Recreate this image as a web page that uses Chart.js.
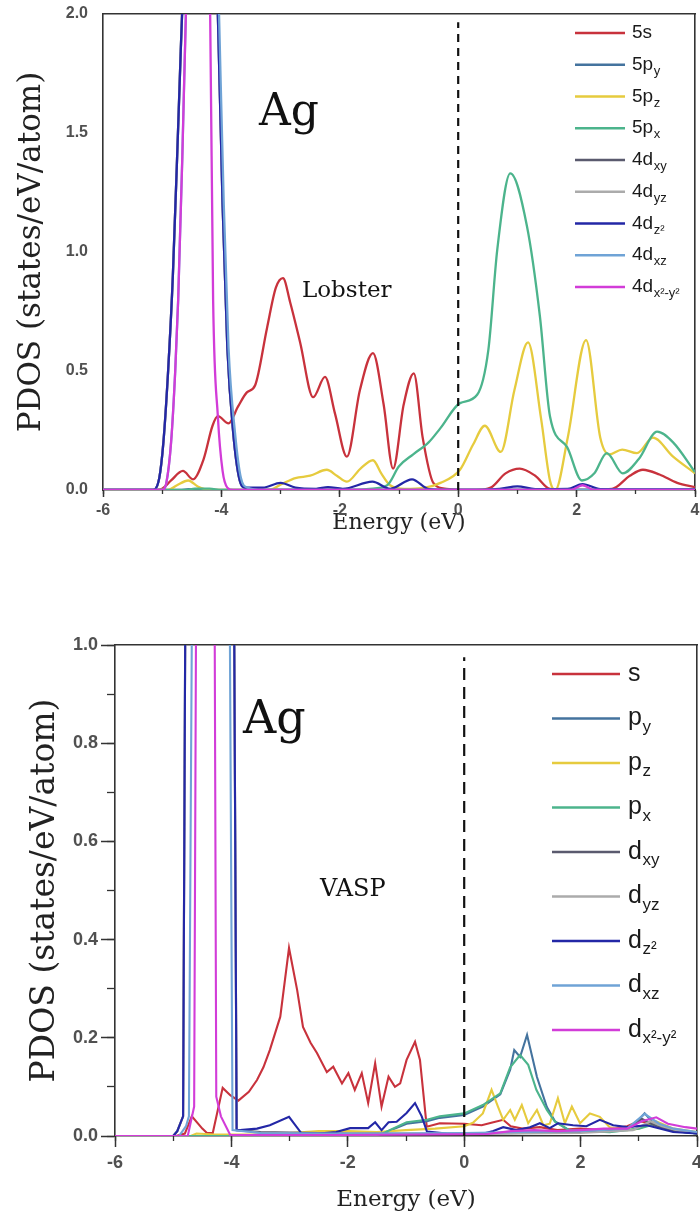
<!DOCTYPE html>
<html>
<head>
<meta charset="utf-8">
<script src="https://cdn.jsdelivr.net/npm/chart.js@4.4.1/dist/chart.umd.min.js"></script>
<style>
  body { margin: 0; background: #fff; width: 700px; height: 1221px; position: relative; overflow: hidden; }
  canvas { position: absolute; left: 0; }
  #lobsterChart { top: 0; }
  #vaspChart { top: 580px; }
</style>
</head>
<body>
<canvas id="lobsterChart" width="700" height="545"></canvas>
<canvas id="vaspChart" width="700" height="641"></canvas>
<script>
// ---- orbital names / colours (same order for both panels) ----
const lobsterNames = ['5s', '5p', '5p', '5p', '4d', '4d', '4d', '4d', '4d'];
const vaspNames = ['s', 'p', 'p', 'p', 'd', 'd', 'd', 'd', 'd'];
const orbitalSubs = ['', 'y', 'z', 'x', 'xy', 'yz', 'z²', 'xz', 'x²-y²'];
const orbitalColors = ['#c8323c', '#44739e', '#e6cb3e', '#4cb48c', '#5a5a6e', '#ababab', '#2327a6', '#6fa3d6', '#d23cd8'];

// ---- Lobster PDOS, [energy (eV), states/eV/atom] ----
const lob5s = [[-6,0],[-5.1,0],[-5.0,0.005],[-4.85,0.04],[-4.65,0.08],[-4.48,0.045],[-4.3,0.13],[-4.15,0.27],[-4.06,0.31],[-3.88,0.28],[-3.72,0.35],[-3.57,0.41],[-3.43,0.44],[-3.23,0.68],[-3.08,0.85],[-2.96,0.89],[-2.84,0.79],[-2.67,0.62],[-2.45,0.39],[-2.25,0.475],[-2.08,0.32],[-1.88,0.14],[-1.66,0.42],[-1.44,0.575],[-1.26,0.36],[-1.10,0.09],[-0.92,0.36],[-0.75,0.49],[-0.6,0.22],[-0.42,0.03],[-0.2,0.005],[0.3,0],[0.55,0.01],[0.8,0.07],[1.04,0.09],[1.3,0.06],[1.55,0.005],[2.0,0],[2.6,0.005],[2.9,0.06],[3.12,0.085],[3.4,0.065],[3.7,0.03],[4,0.012]];
const lob5py = [[-6,0],[-4.7,0],[-4.55,0.004],[-4.4,0],[4,0]];
const lob5pz = [[-6,0],[-4.9,0],[-4.75,0.02],[-4.56,0.04],[-4.4,0.015],[-4.2,0],[-3.2,0],[-2.98,0.025],[-2.75,0.05],[-2.5,0.06],[-2.22,0.085],[-2.05,0.06],[-1.88,0.035],[-1.65,0.09],[-1.44,0.125],[-1.3,0.07],[-1.15,0.02],[-0.9,0.005],[-0.6,0.008],[-0.3,0.03],[0.03,0.085],[0.25,0.19],[0.45,0.27],[0.72,0.16],[0.95,0.42],[1.18,0.62],[1.4,0.3],[1.55,0.04],[1.64,0],[1.85,0.22],[2.16,0.63],[2.4,0.22],[2.55,0.15],[2.77,0.17],[3.02,0.155],[3.29,0.22],[3.63,0.14],[4,0.07]];
const lob5px = [[-6,0],[-4.6,0],[-4.45,0.006],[-4.2,0.006],[-4.0,0],[-1.8,0],[-1.5,0.005],[-1.2,0.02],[-1.0,0.1],[-0.76,0.15],[-0.5,0.2],[-0.3,0.26],[0.03,0.365],[0.32,0.40],[0.51,0.59],[0.66,1.01],[0.88,1.33],[1.16,1.11],[1.38,0.73],[1.55,0.31],[1.84,0.18],[2.09,0.04],[2.3,0.07],[2.51,0.155],[2.78,0.07],[3.05,0.13],[3.36,0.245],[3.63,0.2],[4,0.075]];
const lob4dxy = [[-6,0],[-5.15,0],[-5.05,0.05],[-4.98,0.2],[-4.9,0.5],[-4.82,0.9],[-4.72,1.6],[-4.62,2.3],[-4.45,2.9],[-4.2,2.7],[-4.06,2.0],[-3.98,1.2],[-3.9,0.6],[-3.8,0.24],[-3.7,0.05],[-3.6,0.01],[-3.2,0],[4,0]];
const lob4dyz = [[-6,0],[-5.15,0],[-5.05,0.05],[-4.98,0.2],[-4.9,0.5],[-4.82,0.9],[-4.72,1.6],[-4.62,2.3],[-4.5,2.7],[-4.25,2.8],[-4.06,2.0],[-3.98,1.2],[-3.9,0.6],[-3.8,0.24],[-3.7,0.05],[-3.6,0.01],[-3.2,0],[4,0]];
const lob4dz2 = [[-6,0],[-5.15,0],[-5.05,0.05],[-4.98,0.2],[-4.9,0.5],[-4.82,0.9],[-4.72,1.6],[-4.62,2.3],[-4.4,3.2],[-4.15,2.6],[-4.06,2.0],[-3.98,1.2],[-3.9,0.6],[-3.8,0.24],[-3.7,0.05],[-3.6,0.01],[-3.3,0.01],[-3.0,0.03],[-2.75,0.01],[-2.4,0.005],[-2.2,0.012],[-1.95,0.005],[-1.45,0.035],[-1.15,0.005],[-0.78,0.045],[-0.5,0.004],[0,0],[0.7,0.005],[1.0,0.015],[1.3,0.004],[1.85,0.005],[2.1,0.025],[2.4,0.004],[4,0.002]];
const lob4dxz = [[-6,0],[-5.0,0],[-4.93,0.03],[-4.85,0.2],[-4.78,0.5],[-4.73,0.8],[-4.66,1.4],[-4.6,2.0],[-4.4,2.9],[-4.1,2.6],[-4.04,2.0],[-3.96,1.2],[-3.88,0.6],[-3.77,0.24],[-3.67,0.05],[-3.56,0.01],[-3.3,0],[4,0]];
const lob4dx2y2 = [[-6,0],[-5.0,0],[-4.93,0.03],[-4.85,0.2],[-4.78,0.5],[-4.73,0.8],[-4.66,1.4],[-4.6,2.0],[-4.5,2.8],[-4.3,2.8],[-4.19,2.0],[-4.14,0.8],[-4.06,0.31],[-3.98,0.08],[-3.9,0.01],[-3.8,0],[1.9,0],[2.1,0.02],[2.3,0],[4,0]];

// ---- VASP PDOS ----
const vasp_s = [[-6,0],[-4.95,0],[-4.8,0.005],[-4.68,0.04],[-4.5,0.015],[-4.42,0.006],[-4.32,0.006],[-4.15,0.098],[-4.02,0.083],[-3.88,0.072],[-3.7,0.09],[-3.56,0.114],[-3.45,0.14],[-3.34,0.175],[-3.16,0.243],[-3.01,0.383],[-2.87,0.297],[-2.77,0.222],[-2.64,0.19],[-2.53,0.169],[-2.36,0.13],[-2.25,0.141],[-2.1,0.107],[-1.99,0.128],[-1.88,0.094],[-1.76,0.128],[-1.65,0.067],[-1.53,0.148],[-1.42,0.06],[-1.3,0.121],[-1.19,0.1],[-1.1,0.107],[-0.99,0.155],[-0.845,0.192],[-0.76,0.155],[-0.644,0.019],[-0.42,0.026],[0,0.025],[0.3,0.022],[0.5,0.028],[0.67,0.033],[0.8,0.02],[1.0,0.015],[1.3,0.018],[1.6,0.012],[2.0,0.015],[2.4,0.012],[2.8,0.02],[3.0,0.03],[3.3,0.025],[3.6,0.012],[4,0.005]];
const vasp_py = [[-6,0],[-1.6,0],[-1.4,0.005],[-0.99,0.025],[-0.64,0.03],[-0.42,0.037],[0,0.043],[0.32,0.06],[0.62,0.085],[0.79,0.135],[0.86,0.175],[0.96,0.161],[1.08,0.206],[1.25,0.12],[1.42,0.059],[1.56,0.03],[1.8,0.012],[2.5,0.01],[2.9,0.02],[3.1,0.046],[3.3,0.02],[3.6,0.01],[4,0.005]];
const vasp_pz = [[-6,0],[-4.7,0],[-4.6,0.005],[-4.3,0.003],[-3.5,0.003],[-3.0,0.006],[-2.5,0.01],[-2.0,0.01],[-1.5,0.008],[-1.0,0.012],[-0.5,0.015],[0,0.02],[0.15,0.027],[0.32,0.046],[0.47,0.094],[0.58,0.06],[0.67,0.033],[0.79,0.053],[0.87,0.033],[0.99,0.063],[1.10,0.026],[1.25,0.053],[1.36,0.022],[1.47,0.025],[1.61,0.077],[1.73,0.026],[1.85,0.06],[1.99,0.026],[2.16,0.046],[2.33,0.039],[2.5,0.018],[2.8,0.012],[3.0,0.015],[3.3,0.03],[3.6,0.015],[4,0.008]];
const vasp_px = [[-6,0],[-1.6,0],[-1.40,0.005],[-0.99,0.028],[-0.64,0.033],[-0.42,0.04],[0,0.046],[0.32,0.063],[0.62,0.087],[0.79,0.14],[0.96,0.165],[1.10,0.145],[1.24,0.094],[1.42,0.053],[1.56,0.029],[1.8,0.012],[2.5,0.008],[3.0,0.015],[3.3,0.025],[3.6,0.01],[4,0.005]];
const vasp_dxy = [[-6,0],[-5.0,0],[-4.93,0.01],[-4.83,0.04],[-4.75,2.2],[-4.4,2.5],[-4.0,2.2],[-3.91,0.012],[-3.5,0.008],[-2.0,0.005],[0,0.004],[1,0.006],[2,0.008],[2.8,0.015],[3.05,0.035],[3.3,0.02],[3.6,0.01],[4,0.005]];
const vasp_dyz = [[-6,0],[-5.0,0],[-4.93,0.01],[-4.83,0.04],[-4.75,2.2],[-4.5,2.4],[-4.0,2.2],[-3.91,0.012],[-3.5,0.006],[-2.0,0.004],[0,0.004],[1,0.005],[2,0.006],[2.9,0.012],[3.2,0.03],[3.4,0.02],[3.7,0.01],[4,0.006]];
const vasp_dz2 = [[-6,0],[-5.0,0],[-4.93,0.01],[-4.83,0.04],[-4.75,2.2],[-4.4,2.6],[-4.0,2.2],[-3.91,0.012],[-3.85,0.012],[-3.56,0.015],[-3.34,0.022],[-3.01,0.039],[-2.8,0.006],[-2.5,0.005],[-2.2,0.008],[-1.96,0.016],[-1.65,0.016],[-1.53,0.028],[-1.42,0.012],[-1.30,0.028],[-1.16,0.029],[-0.99,0.047],[-0.845,0.067],[-0.73,0.04],[-0.64,0.009],[-0.3,0.005],[0.3,0.004],[0.5,0.01],[0.67,0.018],[0.9,0.012],[1.13,0.018],[1.3,0.026],[1.47,0.016],[1.61,0.026],[1.87,0.022],[2.1,0.02],[2.33,0.033],[2.56,0.022],[2.8,0.018],[3.14,0.022],[3.59,0.008],[4,0.005]];
const vasp_dxz = [[-6,0],[-4.9,0],[-4.78,0.02],[-4.73,0.04],[-4.62,2.2],[-4.3,2.6],[-4.08,2.2],[-3.98,0.012],[-3.5,0.006],[-2.0,0.005],[0,0.006],[1,0.008],[2,0.01],[2.8,0.015],[3.1,0.045],[3.35,0.025],[3.6,0.015],[4,0.008]];
const vasp_dx2y2 = [[-6,0],[-4.75,0],[-4.64,0.06],[-4.57,2.2],[-4.32,2.2],[-4.26,0.08],[-4.18,0.04],[-4.02,0.002],[-2,0.002],[0.4,0.004],[0.8,0.01],[1.2,0.012],[1.6,0.01],[2.0,0.012],[2.4,0.015],[2.8,0.015],[3.05,0.03],[3.3,0.038],[3.5,0.025],[3.8,0.018],[4,0.015]];

const lobsterSeries = [lob5s, lob5py, lob5pz, lob5px, lob4dxy, lob4dyz, lob4dz2, lob4dxz, lob4dx2y2];
const vaspSeries = [vasp_s, vasp_py, vasp_pz, vasp_px, vasp_dxy, vasp_dyz, vasp_dz2, vasp_dxz, vasp_dx2y2];

Chart.defaults.font.family = '"Liberation Sans", Arial, sans-serif';
Chart.defaults.animation = false;

function buildDatasets(series, names, smooth, width, fermiTop, dash) {
  const sets = series.map((pts, i) => ({
    label: names[i] + orbitalSubs[i],
    base: names[i],
    sub: orbitalSubs[i],
    data: pts.map(p => ({ x: p[0], y: p[1] })),
    borderColor: orbitalColors[i],
    borderWidth: width,
    pointRadius: 0,
    tension: 0,
    cubicInterpolationMode: smooth ? 'monotone' : 'default',
    order: series.length - i   // later orbitals drawn on top
  }));
  // Fermi level
  sets.push({
    label: 'EF',
    data: [{ x: 0, y: 0 }, { x: 0, y: fermiTop }],
    borderColor: '#111',
    borderWidth: 2.2,
    borderDash: dash,
    pointRadius: 0,
    order: 0
  });
  return sets;
}

// draws the orbital legend with subscripts
const orbitalLegend = {
  id: 'orbitalLegend',
  afterDraw(chart, args, o) {
    const ctx = chart.ctx;
    let row = 0;
    chart.data.datasets.forEach(ds => {
      if (ds.base === undefined) return;
      const y = o.top + row * o.step;
      ctx.save();
      ctx.strokeStyle = ds.borderColor;
      ctx.lineWidth = o.lineWidth;
      ctx.beginPath();
      ctx.moveTo(o.x0, y);
      ctx.lineTo(o.x1, y);
      ctx.stroke();
      ctx.fillStyle = '#1a1a1a';
      ctx.textBaseline = 'middle';
      ctx.font = o.size + 'px "Liberation Sans"';
      ctx.fillText(ds.base, o.textX, y);
      const w = ctx.measureText(ds.base).width;
      ctx.font = Math.round(o.size * 0.66) + 'px "Liberation Sans"';
      ctx.fillText(ds.sub, o.textX + w + 0.5, y + o.size * 0.34);
      ctx.restore();
      row++;
    });
  }
};

// free text labels ("Ag", method name)
const panelText = {
  id: 'panelText',
  afterDraw(chart, args, o) {
    const ctx = chart.ctx;
    o.items.forEach(t => {
      ctx.save();
      ctx.fillStyle = '#111';
      ctx.textBaseline = 'alphabetic';
      ctx.font = t.size + 'px "DejaVu Serif"';
      ctx.fillText(t.text, t.x, t.y);
      ctx.restore();
    });
  }
};

function buildScales(c) {
  const axisColor = '#333';
  const tickFont = { size: c.tickSize, weight: 'bold' };
  return {
    x: {
      type: 'linear', position: 'bottom', weight: 1, min: -6, max: 4,
      ticks: { stepSize: 2, autoSkip: false, maxRotation: 0, color: '#505050', font: tickFont, padding: c.xTickPad },
      grid: { drawOnChartArea: false, tickLength: c.xMajor, tickColor: axisColor, tickWidth: 1.5 },
      border: { color: axisColor, width: 1.6 },
      title: { display: true, text: 'Energy (eV)', color: '#222', font: { family: 'DejaVu Serif', size: c.xTitleSize }, padding: { top: 0, bottom: c.xTitlePad } },
      afterFit(s) { s.height = c.xHeight; s.paddingLeft = 0; s.paddingRight = 0; }
    },
    xMinor: {
      type: 'linear', position: 'bottom', weight: 0, min: -6, max: 4,
      ticks: { display: false, stepSize: 1, autoSkip: false },
      grid: { drawOnChartArea: false, tickLength: c.xMinorLen, tickColor: axisColor, tickWidth: 1.3 },
      border: { display: false },
      afterFit(s) { s.height = 0; s.paddingLeft = 0; s.paddingRight = 0; }
    },
    xTop: {
      type: 'linear', position: 'top', min: -6, max: 4,
      ticks: { display: false },
      grid: { drawOnChartArea: false, drawTicks: false },
      border: { color: axisColor, width: 1.6 },
      afterFit(s) { s.height = 0; s.paddingLeft = 0; s.paddingRight = 0; }
    },
    y: {
      type: 'linear', position: 'left', weight: 1, min: 0, max: c.yMax,
      ticks: { stepSize: c.yStep, autoSkip: false, color: '#505050', font: tickFont, padding: c.yTickPad, callback: v => v.toFixed(1) },
      grid: { drawOnChartArea: false, drawTicks: c.yMajor > 0, tickLength: c.yMajor, tickColor: axisColor, tickWidth: 1.5 },
      border: { color: axisColor, width: 1.6 },
      title: { display: true, text: 'PDOS (states/eV/atom)', color: '#222', font: { family: 'DejaVu Serif', size: c.yTitleSize }, padding: { top: c.yTitlePad, bottom: 0 } },
      afterFit(s) { s.width = c.yWidth; s.paddingTop = 0; s.paddingBottom = 0; }
    },
    yMinor: {
      type: 'linear', position: 'left', weight: 0, min: 0, max: c.yMax,
      ticks: { display: false, stepSize: c.yMinorStep, autoSkip: false },
      grid: { drawOnChartArea: false, display: c.yMinorLen > 0, tickLength: c.yMinorLen, tickColor: axisColor, tickWidth: 1.3 },
      border: { display: false },
      afterFit(s) { s.width = 0; s.paddingTop = 0; s.paddingBottom = 0; }
    },
    yRight: {
      type: 'linear', position: 'right', min: 0, max: c.yMax,
      ticks: { display: false },
      grid: { drawOnChartArea: false, drawTicks: false },
      border: { color: axisColor, width: 1.6 },
      afterFit(s) { s.width = 0; s.paddingTop = 0; s.paddingBottom = 0; }
    }
  };
}

new Chart(document.getElementById('lobsterChart'), {
  type: 'line',
  data: { datasets: buildDatasets(lobsterSeries, lobsterNames, true, 2.3, 1.965, [8, 6]) },
  options: {
    responsive: false,
    devicePixelRatio: 1,
    layout: { padding: { top: 14, right: 5, bottom: 0, left: 0 } },
    scales: buildScales({
      tickSize: 16, xTickPad: 4, xMajor: 7, xMinorLen: 4, xTitleSize: 22, xTitlePad: 9, xHeight: 55,
      yMax: 2, yStep: 0.5, yMinorStep: 0.5, yMajor: 0, yMinorLen: 0, yTickPad: 15, yWidth: 103,
      yTitleSize: 31, yTitlePad: 13
    }),
    plugins: {
      legend: { display: false },
      tooltip: { enabled: false },
      orbitalLegend: { x0: 575, x1: 625, textX: 632, top: 33, step: 31.75, size: 19, lineWidth: 2.5 },
      panelText: { items: [
        { text: 'Ag', x: 259, y: 125, size: 44 },
        { text: 'Lobster', x: 302, y: 297, size: 23 }
      ] }
    }
  },
  plugins: [orbitalLegend, panelText]
});

new Chart(document.getElementById('vaspChart'), {
  type: 'line',
  data: { datasets: buildDatasets(vaspSeries, vaspNames, false, 2.1, 0.975, [12, 7]) },
  options: {
    responsive: false,
    devicePixelRatio: 1,
    layout: { padding: { top: 65, right: 3, bottom: 0, left: 0 } },
    scales: buildScales({
      tickSize: 18, xTickPad: 5, xMajor: 11, xMinorLen: 5, xTitleSize: 23, xTitlePad: 7, xHeight: 85,
      yMax: 1, yStep: 0.2, yMinorStep: 0.1, yMajor: 14, yMinorLen: 8, yTickPad: 3, yWidth: 115,
      yTitleSize: 33, yTitlePad: 26
    }),
    plugins: {
      legend: { display: false },
      tooltip: { enabled: false },
      orbitalLegend: { x0: 552, x1: 620, textX: 628, top: 94, step: 44.5, size: 25, lineWidth: 2.5 },
      panelText: { items: [
        { text: 'Ag', x: 243, y: 153, size: 46 },
        { text: 'VASP', x: 320, y: 316, size: 24 }
      ] }
    }
  },
  plugins: [orbitalLegend, panelText]
});
</script>
</body>
</html>
